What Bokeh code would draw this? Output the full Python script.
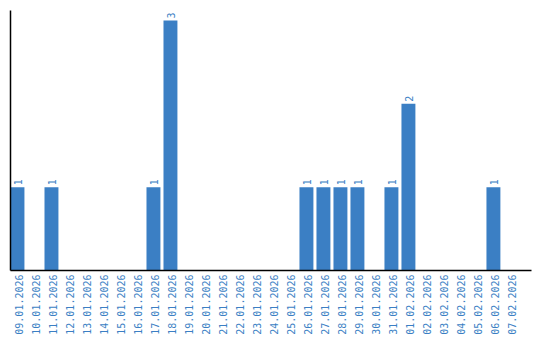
from math import pi
from bokeh.plotting import figure
from bokeh.models import ColumnDataSource, FixedTicker, Range1d
from bokeh.embed import file_html
from bokeh.resources import INLINE
from bokeh.core.properties import value

dates = ["09.01.2026", "10.01.2026", "11.01.2026", "12.01.2026", "13.01.2026",
         "14.01.2026", "15.01.2026", "16.01.2026", "17.01.2026", "18.01.2026",
         "19.01.2026", "20.01.2026", "21.01.2026", "22.01.2026", "23.01.2026",
         "24.01.2026", "25.01.2026", "26.01.2026", "27.01.2026", "28.01.2026",
         "29.01.2026", "30.01.2026", "31.01.2026", "01.02.2026", "02.02.2026",
         "03.02.2026", "04.02.2026", "05.02.2026", "06.02.2026", "07.02.2026"]
counts = [1, 0, 1, 0, 0, 0, 0, 0, 1, 3,
          0, 0, 0, 0, 0, 0, 0, 1, 1, 1,
          1, 0, 1, 2, 0, 0, 0, 0, 1, 0]

BLUE = "#3b7fc4"
FONT = "DejaVu Sans Mono"
xs = list(range(len(dates)))
src = ColumnDataSource(dict(x=xs, top=counts))
nz = [i for i, c in enumerate(counts) if c > 0]
lab = ColumnDataSource(dict(x=[xs[i] + 0.02 for i in nz], y=[counts[i] for i in nz],
                            label=[str(counts[i]) for i in nz]))

p = figure(width=540, height=340, output_backend="svg", toolbar_location=None,
           x_range=Range1d(-0.41, 30.24), y_range=Range1d(0, 3.12),
           min_border_left=10, min_border_top=10, min_border_right=9, min_border_bottom=70)
p.outline_line_color = None
p.grid.grid_line_color = None
p.background_fill_color = "white"
p.border_fill_color = "white"

p.vbar(x="x", top="top", bottom=0, width=0.82, source=src, color=BLUE, line_color=None)
p.text(x="x", y="y", text="label", source=lab, angle=pi / 2,
       text_font=value(FONT), text_font_size="10px", text_color=BLUE,
       text_align="left", text_baseline="middle", x_offset=0, y_offset=-2)

xa = p.xaxis[0]
xa.ticker = FixedTicker(ticks=[x + 0.1 for x in xs])
xa.major_label_overrides = {x + 0.1: d for x, d in zip(xs, dates)}
xa.major_label_orientation = pi / 2
xa.major_label_text_color = BLUE
xa.major_label_text_font = FONT
xa.major_label_text_font_size = "10px"
xa.major_label_standoff = 4
xa.major_tick_out = 0
xa.major_tick_in = 0
xa.minor_tick_out = 0
xa.minor_tick_in = 0
xa.axis_line_color = "black"
xa.axis_line_width = 1.5

ya = p.yaxis[0]
ya.ticker = FixedTicker(ticks=[])
ya.major_label_text_font_size = "0px"
ya.major_tick_out = 0
ya.major_tick_in = 0
ya.minor_tick_out = 0
ya.minor_tick_in = 0
ya.axis_line_color = "black"
ya.axis_line_width = 1.5

open("out.html", "w").write(file_html(p, INLINE))
